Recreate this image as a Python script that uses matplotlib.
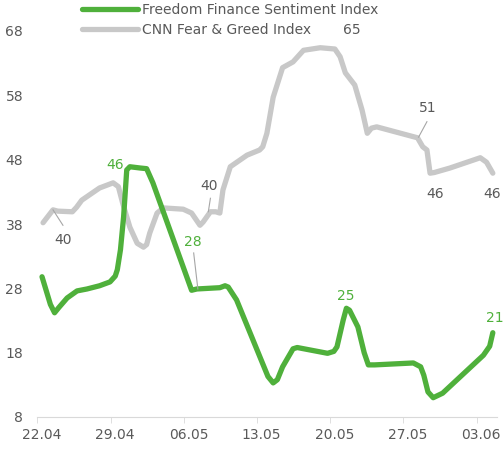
import matplotlib
matplotlib.use("Agg")
import matplotlib.pyplot as plt

# days counted from 22.04
tick_days = [0, 7, 14, 21, 28, 35, 42]
tick_labels = ["22.04", "29.04", "06.05", "13.05", "20.05", "27.05", "03.06"]

ff_days = [0, 0.8, 1.2, 1.6, 2.4, 3.35, 4.3, 5.5, 6.5, 7.0, 7.2, 7.5, 7.8, 8.1, 8.4, 9.4, 10.0, 10.6,
           14.3, 14.8, 17.0, 17.5, 17.8, 18.6, 21.6, 22.1, 22.5, 23.0, 24.0, 24.4, 27.3, 27.9, 28.2,
           28.8, 29.1, 29.4, 30.2, 30.8, 31.2, 31.8, 35.5, 36.2, 36.5, 36.9, 37.4, 38.3, 42.2, 42.8, 43.1]
ff_vals = [29.8, 25.5, 24.2, 25.0, 26.5, 27.6, 27.9, 28.4, 29.0, 29.9, 30.9, 34.0, 39.1, 46.4, 46.9,
           46.7, 46.6, 44.4, 27.7, 27.9, 28.1, 28.4, 28.2, 26.2, 14.3, 13.3, 13.8, 15.8, 18.6, 18.8,
           17.9, 18.2, 18.9, 23.1, 24.9, 24.6, 22.0, 18.0, 16.1, 16.1, 16.4, 15.8, 14.5, 11.9, 11.0, 11.7,
           17.6, 19.0, 21.1]

cnn_days = [0.1, 1.05, 1.5, 2.9, 3.3, 3.8, 5.5, 6.8, 7.3, 7.7, 8.4, 9.1, 9.7, 10.0, 10.3, 11.0, 11.6,
            13.5, 14.3, 15.1, 15.4, 16.1, 16.6, 17.0, 17.3, 18.0, 19.6, 20.8, 21.1, 21.5, 22.1, 23.0,
            24.0, 25.0, 26.6, 28.0, 28.5, 29.0, 29.9, 30.6, 31.1, 31.5, 32.0, 35.9, 36.4, 36.8, 37.1,
            37.5, 39.0, 41.9, 42.5, 43.1]
cnn_vals = [38.2, 40.2, 40.0, 39.9, 40.6, 41.7, 43.6, 44.4, 43.8, 41.3, 37.5, 35.0, 34.4, 34.8, 36.6,
            39.7, 40.5, 40.3, 39.7, 37.8, 38.3, 39.9, 39.9, 39.7, 43.3, 46.9, 48.7, 49.5, 50.0, 52.1,
            57.7, 62.3, 63.2, 65.0, 65.4, 65.2, 64.0, 61.5, 59.6, 55.7, 52.1, 52.9, 53.1, 51.4, 50.0,
            49.5, 45.9, 46.0, 46.7, 48.3, 47.6, 45.9]

green = "#4fb03b"
grey = "#c8c8c8"
text_col = "#595959"

fig = plt.figure(figsize=(5.04, 4.49), dpi=100)
ax = fig.add_axes([37/504, 1 - 417/449, 460/504, 386/449])

ax.plot(cnn_days, cnn_vals, color=grey, lw=3.8, solid_joinstyle="round",
        solid_capstyle="round", label="CNN Fear & Greed Index", zorder=2)
ax.plot(ff_days, ff_vals, color=green, lw=3.8, solid_joinstyle="round",
        solid_capstyle="round", label="Freedom Finance Sentiment Index", zorder=3)

ax.set_xlim(-0.48, 43.5)
ax.set_ylim(8, 68)
ax.set_yticks(range(8, 69, 10))
ax.set_xticks(tick_days)
ax.set_xticklabels(tick_labels)
ax.set_xticks([d - 0.45 for d in tick_days], minor=True)
ax.tick_params(axis="x", which="major", length=0, pad=8, labelsize=10, labelcolor=text_col)
ax.tick_params(axis="x", which="minor", length=4, color="#d9d9d9", direction="out")
ax.tick_params(axis="y", length=0, pad=10, labelsize=10, labelcolor=text_col)
for s in ["top", "right", "left"]:
    ax.spines[s].set_visible(False)
ax.spines["bottom"].set_color("#d9d9d9")

# data labels
ann = [
    ("46", 6.98, 47.2, green), ("28", 14.4, 35.2, green), ("25", 29.0, 26.8, green),
    ("21", 43.3, 23.4, green),
    ("40", 2.0, 35.5, text_col), ("40", 16.0, 43.9, text_col), ("65", 29.6, 68.2, text_col),
    ("51", 36.9, 56.0, text_col), ("46", 37.6, 42.7, text_col), ("46", 43.0, 42.7, text_col),
]
for t, x, y, c in ann:
    ax.text(x, y, t, color=c, fontsize=10, ha="center", va="center", clip_on=False)

leaders = [((1.05, 2.0), (40.2, 37.8)), ((16.1, 15.9), (42.0, 39.9)),
           ((14.5, 14.9), (33.5, 27.9)), ((36.8, 36.0), (53.9, 51.5))]
for xs, ys in leaders:
    ax.plot(xs, ys, color="#a6a6a6", lw=0.8, zorder=4)

h, l = ax.get_legend_handles_labels()
fig.legend(h[::-1], l[::-1], loc="upper left", bbox_to_anchor=(82/504, 1 - 3/449),
           frameon=False, fontsize=10, handlelength=4.0, handletextpad=0.35,
           labelspacing=0.45, borderpad=0, borderaxespad=0, labelcolor=text_col)

fig.savefig("out.png", dpi=100)
